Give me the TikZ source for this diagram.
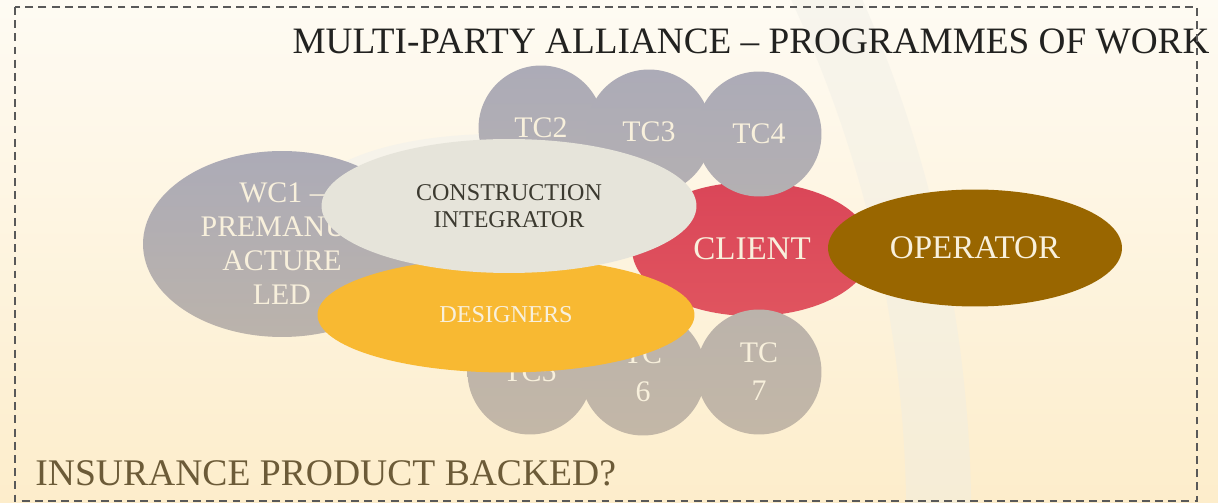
\documentclass[tikz,border=0pt]{standalone}
\usepackage{fontspec}
\setmainfont{Liberation Serif}
\usepackage{xcolor}
\usetikzlibrary{shapes,positioning}
\definecolor{bgtop}{HTML}{FEFBF3}
\definecolor{bgbot}{HTML}{FDEDCB}
\definecolor{ring}{HTML}{EDEDE6}
\definecolor{greyup}{HTML}{ACABB7}
\definecolor{greymid}{HTML}{B4B0B2}
\definecolor{greylow}{HTML}{BBB3AB}
\definecolor{greybot}{HTML}{C3B7A7}
\definecolor{paletext}{HTML}{F8F0DC}
\definecolor{integ}{HTML}{E6E4DA}
\definecolor{integtext}{HTML}{3C3A30}
\definecolor{design}{HTML}{F8B932}
\definecolor{clienttop}{HTML}{DA4658}
\definecolor{clientbot}{HTML}{E0545F}
\definecolor{operat}{HTML}{996600}
\definecolor{titletext}{HTML}{222220}
\definecolor{asktext}{HTML}{6C5B38}
\tikzset{tc/.style={circle,minimum size=2.5cm,inner sep=0pt,align=center,text=paletext,font=\fontsize{17}{21.5}\selectfont}}
\tikzset{ell/.style={ellipse,inner sep=0pt,align=center}}

\begin{document}
\begin{tikzpicture}[x=0.02cm,y=-0.02cm]
    \useasboundingbox (0,0) rectangle (1218,503);
    \fill[top color=bgtop,bottom color=bgbot] (0,0) rectangle (1218,503);
    \begin{scope}
    \clip (0,0) rectangle (1218,503);
    \draw[ring,line width=1.3cm,opacity=0.4] (-323,520) circle[radius=25.24cm];
    \end{scope}
    \node[ell,fill=integ!35!bgtop,minimum width=7.5cm,minimum height=2.68cm] (halo)at (497,201) {};

    \node[ell,top color=greyup,bottom color=greylow,minimum width=5.56cm,minimum height=3.72cm,text=paletext,font=\fontsize{17}{19.3}\selectfont] (w)at (282,244) {WC1 --\\PREMANUF\\ACTURE\\LED};
    \node[tc,top color=greyup,bottom color=greymid] (t2)at (541,128) {TC2};
    \node[tc,top color=greyup,bottom color=greymid] (t3)at (649,132) {TC3};
    \node[ell,top color=clienttop,bottom color=clientbot,minimum width=4.8cm,minimum height=2.68cm,text=paletext,font=\fontsize{18.8}{22}\selectfont] (cl)at (752,249) {CLIENT};
    \node[tc,top color=greyup,bottom color=greymid] (t4)at (759,134) {TC4};
    \node[tc,top color=greylow,bottom color=greybot] (t5)at (530,372) {TC5};
    \node[tc,top color=greylow,bottom color=greybot] (t6)at (643,373) {TC\\6};
    \node[tc,top color=greylow,bottom color=greybot] (t7)at (759,372) {TC\\7};
    \node[ell,fill=design,minimum width=7.54cm,minimum height=2.3cm,text=paletext,font=\fontsize{13.8}{16}\selectfont] (d)at (506,315) {DESIGNERS};
    \node[ell,fill=integ,minimum width=7.5cm,minimum height=2.68cm,text=integtext,font=\fontsize{13.7}{15.3}\selectfont] (ci)at (509,206) {CONSTRUCTION\\INTEGRATOR};
    \node[ell,fill=operat,minimum width=5.88cm,minimum height=2.34cm,text=paletext,font=\fontsize{18.8}{22}\selectfont] (op)at (975,248) {OPERATOR};

    \node[text=titletext,inner sep=0pt,font=\fontsize{21.2}{24}\selectfont] (title)at (751,41) {MULTI-PARTY ALLIANCE -- PROGRAMMES OF WORK};
    \node[text=asktext,inner sep=0pt,anchor=west,font=\fontsize{21.4}{24}\selectfont] (ask)at (35,473) {INSURANCE PRODUCT BACKED?};

    \draw[black!65,line width=0.75pt,dash pattern=on 4.5pt off 3pt] (15,7) rectangle (1197,501);
\end{tikzpicture}
\end{document}
